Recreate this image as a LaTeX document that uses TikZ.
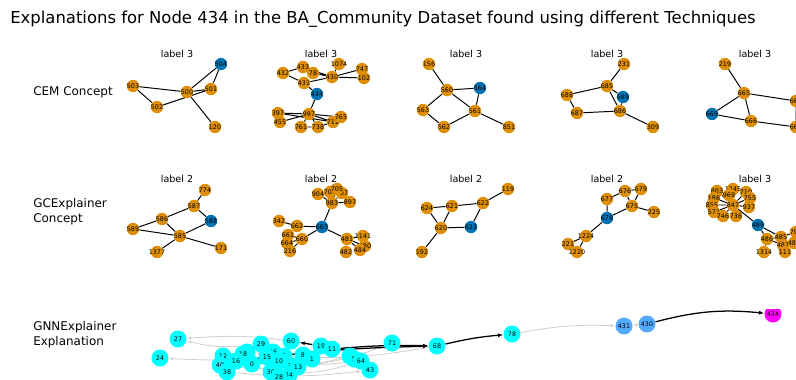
\documentclass[tikz,border=0pt]{standalone}
\usepackage{fontspec}
\setmainfont{DejaVu Sans}
\usetikzlibrary{arrows.meta,backgrounds}
\definecolor{cborange}{RGB}{222,143,5}
\definecolor{cbblue}{RGB}{1,115,178}
\definecolor{gnncyan}{RGB}{0,255,255}
\definecolor{gnnblue}{RGB}{85,170,255}
\definecolor{gnnpink}{RGB}{255,0,255}
\newcommand{\nodefont}{\fontsize{4.5}{5}\selectfont}

\begin{document}
\begin{tikzpicture}[
    x=0.25mm, y=-0.25mm,
    onode/.style={circle,fill=cborange,inner sep=-2pt,minimum size=3.1mm,font=\nodefont},
    bnode/.style={onode,fill=cbblue},
    gnode/.style={circle,fill=gnncyan,inner sep=-2pt,minimum size=4.25mm,font=\nodefont},
    panel/.style={font=\fontsize{6.8}{8}\selectfont},
    rowlabel/.style={anchor=west,align=left,inner sep=0pt,font=\fontsize{8.5}{10.5}\selectfont},
    edge/.style={line width=0.7pt},
    grayarrow/.style={-{Latex[length=1.1mm,width=0.8mm]},black!18,line width=0.6pt},
    blackarrow/.style={-{Latex[length=1.3mm,width=1mm]},black,line width=0.9pt}
  ]
    \useasboundingbox (0,0) rectangle (796,379);
    \clip (0,0) rectangle (796,379);

    \node[anchor=west,inner sep=0pt,font=\fontsize{11.7}{13}\selectfont] (title) at (10,19)
      {Explanations for Node 434 in the BA\_Community Dataset found using different Techniques};
    \node[rowlabel] (cemrow) at (33,92) {CEM Concept};
    \node[rowlabel] (gcerow) at (33,212) {GCExplainer\\Concept};
    \node[rowlabel] (gnnrow) at (33,335) {GNNExplainer\\Explanation};

    % CEM concept
    \node[panel] (cat) at (177,54) {label 3};
    \node[panel] (cbt) at (321,54) {label 3};
    \node[panel] (cct) at (466,54) {label 3};
    \node[panel] (cdt) at (607,54) {label 3};
    \node[panel] (cet) at (755,54) {label 3};

    \node[onode] (ca503) at (133,86) {503};
    \node[onode] (ca502) at (157,107) {502};
    \node[onode] (ca120) at (215,127) {120};
    \node[onode] (ca500) at (187,92) {500};
    \node[onode] (ca501) at (211,89) {501};
    \node[bnode] (ca504) at (221,64) {504};

    \node[onode] (cb1074) at (339,64) {1074};
    \node[onode] (cb747) at (362,69) {747};
    \node[onode] (cb102) at (364,78) {102};
    \node[onode] (cb432) at (283,73) {432};
    \node[onode] (cb433) at (303,67) {433};
    \node[onode] (cb78) at (313,73) {78};
    \node[onode] (cb430) at (332,77) {430};
    \node[onode] (cb431) at (304,83) {431};
    \node[bnode] (cb434) at (317,94) {434};
    \node[onode] (cb397) at (278,113) {397};
    \node[onode] (cb455) at (280,122) {455};
    \node[onode] (cb997) at (309,114) {997};
    \node[onode] (cb761) at (301,127) {761};
    \node[onode] (cb738) at (318,127) {738};
    \node[onode] (cb712) at (333,122) {712};
    \node[onode] (cb765) at (341,117) {765};

    \node[onode] (cc156) at (429,64) {156};
    \node[onode] (cc560) at (447,90) {560};
    \node[bnode] (cc564) at (480,88) {564};
    \node[onode] (cc563) at (423,110) {563};
    \node[onode] (cc561) at (475,111) {561};
    \node[onode] (cc562) at (444,127) {562};
    \node[onode] (cc851) at (509,127) {851};

    \node[onode] (cd231) at (624,64) {231};
    \node[onode] (cd685) at (607,86) {685};
    \node[onode] (cd688) at (567,95) {688};
    \node[bnode] (cd689) at (623,97) {689};
    \node[onode] (cd687) at (577,113) {687};
    \node[onode] (cd686) at (620,111) {686};
    \node[onode] (cd309) at (653,127) {309};

    \node[onode] (ce219) at (725,64) {219};
    \node[onode] (ce665) at (744,93) {665};
    \node[onode] (ce667) at (796,101) {667};
    \node[bnode] (ce669) at (712,114) {669};
    \node[onode] (ce666) at (751,121) {666};
    \node[onode] (ce668) at (796,127) {668};

    % GCExplainer concept
    \node[panel] (gat) at (177,179) {label 2};
    \node[panel] (gbt) at (321,179) {label 2};
    \node[panel] (gct) at (466,179) {label 2};
    \node[panel] (gdt) at (607,179) {label 2};
    \node[panel] (get) at (755,179) {label 3};

    \node[onode] (ga774) at (205,190) {774};
    \node[onode] (ga587) at (194,206) {587};
    \node[onode] (ga586) at (162,219) {586};
    \node[bnode] (ga588) at (211,221) {588};
    \node[onode] (ga589) at (133,229) {589};
    \node[onode] (ga585) at (180,236) {585};
    \node[onode] (ga1377) at (157,252) {1377};
    \node[onode] (ga171) at (221,248) {171};

    \node[onode] (gb904) at (318,194) {904};
    \node[onode] (gb702) at (330,192) {702};
    \node[onode] (gb707) at (342,193) {707};
    \node[onode] (gb705) at (337,189) {705};
    \node[onode] (gb983) at (332,203) {983};
    \node[onode] (gb897) at (350,202) {897};
    \node[onode] (gb342) at (279,221) {342};
    \node[onode] (gb662) at (297,226) {662};
    \node[bnode] (gb663) at (322,227) {663};
    \node[onode] (gb661) at (288,235) {661};
    \node[onode] (gb664) at (287,243) {664};
    \node[onode] (gb216) at (290,251) {216};
    \node[onode] (gb660) at (302,239) {660};
    \node[onode] (gb482) at (346,252) {482};
    \node[onode] (gb481) at (347,239) {481};
    \node[onode] (gb1141) at (363,236) {1141};
    \node[onode] (gb480) at (365,246) {480};
    \node[onode] (gb484) at (360,250) {484};

    \node[onode] (gc119) at (508,189) {119};
    \node[onode] (gc624) at (427,208) {624};
    \node[onode] (gc621) at (452,206) {621};
    \node[onode] (gc622) at (483,203) {622};
    \node[bnode] (gc623) at (471,227) {623};
    \node[onode] (gc620) at (441,228) {620};
    \node[onode] (gc192) at (422,252) {192};

    \node[onode] (gd676) at (625,191) {676};
    \node[onode] (gd679) at (641,189) {679};
    \node[onode] (gd677) at (607,199) {677};
    \node[onode] (gd675) at (632,206) {675};
    \node[onode] (gd225) at (654,212) {225};
    \node[bnode] (gd678) at (607,218) {678};
    \node[onode] (gd1224) at (586,236) {1224};
    \node[onode] (gd221) at (568,244) {221};
    \node[onode] (gd1220) at (577,252) {1220};

    \node[onode] (ge803) at (717,191) {803};
    \node[onode] (ge1245) at (733,189) {1245};
    \node[onode] (ge710) at (746,192) {710};
    \node[onode] (ge969) at (729,195) {969};
    \node[onode] (ge755) at (750,198) {755};
    \node[onode] (ge186) at (714,198) {186};
    \node[onode] (ge855) at (712,205) {855};
    \node[onode] (ge937) at (749,207) {937};
    \node[onode] (ge571) at (714,212) {571};
    \node[onode] (ge746) at (723,216) {746};
    \node[onode] (ge736) at (736,216) {736};
    \node[onode] (ge847) at (733,205) {847};
    \node[bnode] (ge489) at (758,225) {489};
    \node[onode] (ge790) at (796,232) {790};
    \node[onode] (ge488) at (794,243) {488};
    \node[onode] (ge485) at (781,237) {485};
    \node[onode] (ge486) at (767,239) {486};
    \node[onode] (ge487) at (783,245) {487};
    \node[onode] (ge1314) at (764,252) {1314};
    \node[onode] (ge111) at (785,252) {111};

    \begin{pgfonlayer}{background}
      \draw[edge] (ca504) -- (ca500) (ca504) -- (ca501) (ca503) -- (ca500) (ca503) -- (ca502)
        (ca502) -- (ca501) (ca500) -- (ca501) (ca500) -- (ca120);
      \draw[edge] (cb432) -- (cb433) (cb432) -- (cb431) (cb433) -- (cb78) (cb433) -- (cb430)
        (cb78) -- (cb430) (cb431) -- (cb430) (cb430) -- (cb1074) (cb430) -- (cb747)
        (cb430) -- (cb102) (cb747) -- (cb102) (cb431) -- (cb434) (cb434) -- (cb997)
        (cb997) -- (cb397) (cb997) -- (cb455) (cb997) -- (cb761) (cb997) -- (cb738)
        (cb997) -- (cb712) (cb997) -- (cb765) (cb765) -- (cb712) (cb712) -- (cb738)
        (cb761) -- (cb738) (cb397) -- (cb712);
      \draw[edge] (cc156) -- (cc560) (cc560) -- (cc564) (cc560) -- (cc563) (cc560) -- (cc561)
        (cc564) -- (cc561) (cc563) -- (cc562) (cc562) -- (cc561) (cc561) -- (cc851);
      \draw[edge] (cd231) -- (cd685) (cd685) -- (cd688) (cd685) -- (cd689) (cd685) -- (cd686)
        (cd689) -- (cd686) (cd688) -- (cd687) (cd687) -- (cd686) (cd686) -- (cd309);
      \draw[edge] (ce219) -- (ce665) (ce665) -- (ce669) (ce665) -- (ce666) (ce665) -- (ce667)
        (ce669) -- (ce666) (ce666) -- (ce668) (ce667) -- (ce668);

      \draw[edge] (ga774) -- (ga587) (ga587) -- (ga586) (ga587) -- (ga588) (ga586) -- (ga589)
        (ga586) -- (ga585) (ga589) -- (ga585) (ga588) -- (ga585) (ga585) -- (ga1377)
        (ga585) -- (ga171);
      \draw[edge] (gb983) -- (gb904) (gb983) -- (gb702) (gb983) -- (gb705) (gb983) -- (gb707)
        (gb983) -- (gb897) (gb904) -- (gb702) (gb705) -- (gb707) (gb983) -- (gb663)
        (gb342) -- (gb662) (gb662) -- (gb663) (gb663) -- (gb660) (gb660) -- (gb661)
        (gb660) -- (gb664) (gb660) -- (gb216) (gb663) -- (gb481) (gb481) -- (gb1141)
        (gb481) -- (gb480) (gb481) -- (gb484) (gb481) -- (gb482) (gb1141) -- (gb480);
      \draw[edge] (gc119) -- (gc622) (gc624) -- (gc621) (gc621) -- (gc622) (gc624) -- (gc620)
        (gc621) -- (gc620) (gc622) -- (gc623) (gc620) -- (gc623) (gc620) -- (gc192);
      \draw[edge] (gd677) -- (gd676) (gd676) -- (gd679) (gd676) -- (gd675) (gd679) -- (gd675)
        (gd675) -- (gd225) (gd677) -- (gd678) (gd678) -- (gd675) (gd678) -- (gd1224)
        (gd1224) -- (gd221) (gd1224) -- (gd1220) (gd221) -- (gd1220);
      \draw[edge] (ge847) -- (ge803) (ge847) -- (ge1245) (ge847) -- (ge710) (ge847) -- (ge969)
        (ge847) -- (ge755) (ge847) -- (ge186) (ge847) -- (ge855) (ge847) -- (ge937)
        (ge847) -- (ge571) (ge847) -- (ge746) (ge847) -- (ge736) (ge847) -- (ge489)
        (ge489) -- (ge485) (ge489) -- (ge486) (ge485) -- (ge486) (ge486) -- (ge487)
        (ge485) -- (ge487) (ge485) -- (ge790) (ge487) -- (ge488) (ge486) -- (ge1314)
        (ge487) -- (ge111);
    \end{pgfonlayer}

    % GNNExplainer explanation
    \begin{scope}
      \clip (130,309) rectangle (796,379);
      \node[gnode] (x27) at (178,339) {27};
      \node[gnode] (x24) at (160,358) {24};
      \node[gnode] (x29) at (261,344) {29};
      \node[gnode] (x60) at (291,341) {60};
      \node[gnode] (x9) at (247,352) {9};
      \node[gnode] (x36) at (273,352) {36};
      \node[gnode] (x6) at (284,356) {6};
      \node[gnode] (x15) at (267,357) {15};
      \node[gnode] (x2) at (245,358) {2};
      \node[gnode] (x18) at (243,354) {18};
      \node[gnode] (x10) at (279,361) {10};
      \node[gnode] (x8) at (303,355) {8};
      \node[gnode] (x1) at (312,359) {1};
      \node[gnode] (x12) at (223,356) {12};
      \node[gnode] (x16) at (236,361) {16};
      \node[gnode] (x40) at (220,365) {40};
      \node[gnode] (x38) at (227,372) {38};
      \node[gnode] (x0) at (252,364) {0};
      \node[gnode] (x31) at (292,366) {31};
      \node[gnode] (x13) at (298,367) {13};
      \node[gnode] (x30) at (271,372) {30};
      \node[gnode] (x34) at (289,375) {34};
      \node[gnode] (x28) at (279,377) {28};
      \node[gnode] (x19) at (321,346) {19};
      \node[gnode] (x11) at (332,349) {11};
      \node[gnode] (x41) at (350,356) {41};
      \node[gnode] (x5) at (354,359) {5};
      \node[gnode] (x64) at (361,361) {64};
      \node[gnode] (x43) at (370,370) {43};
      \node[gnode] (x71) at (392,343) {71};
      \node[gnode] (x68) at (437,346) {68};
      \node[gnode] (x78) at (512,334) {78};
      \node[gnode,fill=gnnblue] (x431) at (624,326) {431};
      \node[gnode,fill=gnnblue] (x430) at (647,324) {430};
      \node[gnode,fill=gnnpink] (x434) at (773,314) {434};

      \begin{pgfonlayer}{background}
        \draw[grayarrow] (x11) to[bend right=8] (x27);
        \draw[grayarrow] (x29) to[bend left=10] (x27);
        \draw[grayarrow] (x11) to[bend left=6] (x24);
        \draw[grayarrow] (x38) to[bend right=6] (x43);
        \draw[grayarrow] (x64) to[bend left=8] (x12);
        \draw[grayarrow] (x41) to[bend left=10] (x40);
        \draw[grayarrow] (x13) to[bend right=6] (x71);
        \draw[grayarrow] (x30) to[bend right=10] (x64);
        \draw[grayarrow] (x68) to[bend left=8] (x9);
        \draw[grayarrow] (x78) to[bend left=6] (x431);
        \draw[grayarrow] (x430) -- (x431);
        \draw[blackarrow] (x0) -- (x10);
        \draw[blackarrow] (x8) -- (x11);
        \draw[blackarrow] (x19) -- (x60);
        \draw[blackarrow] (x16) to[bend left=3] (x68);
        \draw[blackarrow] (x11) to[bend left=3] (x68);
        \draw[blackarrow] (x68) to[bend left=4] (x78);
        \draw[blackarrow] (x430) to[bend left=10] (x434);
      \end{pgfonlayer}
    \end{scope}
\end{tikzpicture}
\end{document}
